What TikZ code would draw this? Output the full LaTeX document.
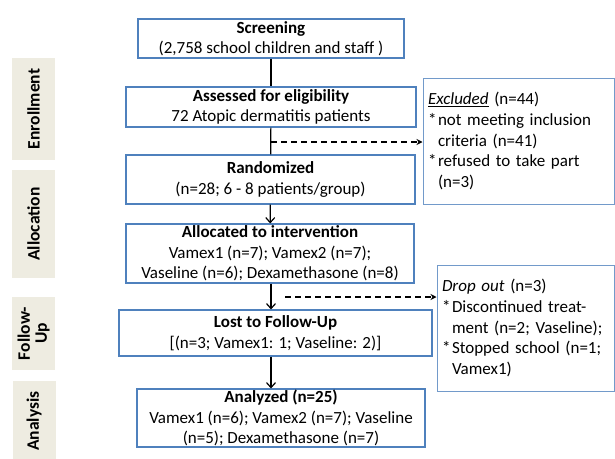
\documentclass[tikz,border=0pt]{standalone}
\usepackage{fontspec}
\usepackage[]{xcolor}
\usetikzlibrary{arrows.meta}
\setmainfont{Carlito}
\definecolor{boxblue}{HTML}{4F81BD}
\definecolor{phasegray}{HTML}{EEECE1}
\newcommand{\bul}{\makebox[10pt][l]{*}}
\newcommand{\nob}{\hspace*{10pt}}

\begin{document}
\begin{tikzpicture}[x=1pt, y=-1pt, >={Straight Barb[length=5pt, width=9pt, line width=1.2pt]},
		flowbox/.style = {rectangle, draw = boxblue, line width = 1.1pt, align = center, inner sep = 1pt,
			font = \fontsize{17}{20.5}\selectfont},
		sidebox/.style = {rectangle, draw = boxblue!80, line width = 1pt, align = left, inner sep = 5pt,
			font = \fontsize{17}{20.7}\selectfont},
		phase/.style = {rectangle, fill = phasegray, rotate = 90, align = center, inner sep = 1pt,
			font = \fontsize{17.5}{17}\selectfont\bfseries},
		link/.style = {line width = 1.2pt, black},
		droplink/.style = {line width = 1.1pt, black, dash pattern = on 6pt off 4pt, >={Stealth[length=6pt, width=6pt]}}]
			\useasboundingbox (0,0) rectangle (615,458);

			\node[flowbox, minimum width = 266, minimum height = 39] (screen) at (271,38.5) {\textbf{Screening}\\(2,758 school children and staff )};
			\node[flowbox, minimum width = 290, minimum height = 40] (assess) at (271,107) {\textbf{Assessed for eligibility}\\72 Atopic dermatitis patients};
			\node[flowbox, minimum width = 289, minimum height = 49] (random) at (270.5,179.5) {\textbf{Randomized}\\(n=28; 6 - 8 patients/group)};
			\node[flowbox, minimum width = 288, minimum height = 59] (alloc) at (270,253.5) {\textbf{Allocated to intervention}\\Vamex1 (n=7); Vamex2 (n=7);\\Vaseline (n=6); Dexamethasone (n=8)};
			\node[flowbox, minimum width = 313, minimum height = 46] (lost) at (275.5,333) {\textbf{Lost to Follow-Up}\\{[}(n=3; Vamex1: 1; Vaseline: 2)]};
			\node[flowbox, minimum width = 288, minimum height = 50] (analyzed) at (281,418) {\textbf{Analyzed (n=25)}\\Vamex1 (n=6); Vamex2 (n=7); Vaseline\\(n=5); Dexamethasone (n=7)};

			\node[sidebox, minimum width = 191, minimum height = 126, text width = 181] (excluded) at (518.5,141) {\underline{\textit{Excluded}} (n=44)\\\bul not meeting inclusion\\\nob criteria (n=41)\\\bul refused to take part\\\nob (n=3)};
			\node[sidebox, minimum width = 177, minimum height = 126, text width = 167] (dropout) at (525.5,328) {\textit{Drop out} (n=3)\\\bul Discontinued treat-\\\nob ment (n=2; Vaseline);\\\bul Stopped school (n=1;\\\nob Vamex1)};

			\coordinate (exclsplit) at (271,142);
			\coordinate (dropsplit) at (285,297);

			\draw[link, solid] (screen) to (assess);
			\draw[link, solid] (assess) to (random);
			\draw[link, ->, solid] (random) to (alloc);
			\draw[link, ->, solid] (alloc.south -| screen) to (lost.north -| screen);
			\draw[link, ->, solid] (lost.south -| screen) to (analyzed.north -| screen);
			\draw[droplink, ->] (exclsplit) to (exclsplit -| excluded.west);
			\draw[droplink, ->] (dropsplit) to (dropsplit -| dropout.west);

			% Phases
			\node[phase, minimum width = 102, minimum height = 43] (enroll) at (33.5,109) {Enrollment};
			\node[phase, minimum width = 108, minimum height = 43] (allocph) at (33.5,224) {Allocation};
			\node[phase, minimum width = 73, minimum height = 43] (follow) at (33.5,333.5) {Follow-\\Up};
			\node[phase, minimum width = 80, minimum height = 43] (analysis) at (34,421) {Analysis};
		\end{tikzpicture}
\end{document}
